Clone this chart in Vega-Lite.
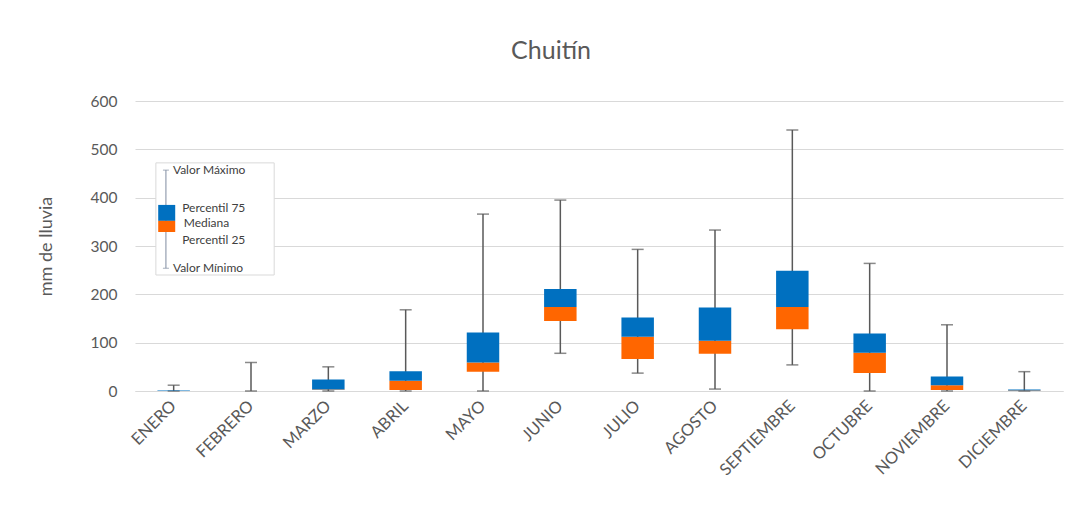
{
  "$schema": "https://vega.github.io/schema/vega-lite/v6.json",
  "autosize": {"type": "none"},
  "padding": {"left": 135, "top": 101, "right": 24, "bottom": 130},
  "width": 928,
  "height": 290,
  "background": "white",
  "title": {"text": "Chuitín", "font": "Lato", "fontSize": 25, "fontWeight": "normal", "color": "#595959", "offset": 30, "dx": -48},
  "config": {
    "view": {"stroke": null},
    "font": "Lato",
    "axis": {"labelFont": "Lato", "titleFont": "Lato", "labelColor": "#595959", "titleColor": "#595959"}
  },
  "datasets": {
    "boxes": [
      {"mes": "ENERO", "min": 0, "q1": 0, "mediana": 0, "q3": 1, "max": 12},
      {"mes": "FEBRERO", "min": 0, "q1": 0, "mediana": 0, "q3": 0, "max": 59},
      {"mes": "MARZO", "min": 0, "q1": 2, "mediana": 3, "q3": 24, "max": 50},
      {"mes": "ABRIL", "min": 0, "q1": 2, "mediana": 21, "q3": 41, "max": 168},
      {"mes": "MAYO", "min": 0, "q1": 40, "mediana": 59, "q3": 121, "max": 366},
      {"mes": "JUNIO", "min": 78, "q1": 145, "mediana": 174, "q3": 211, "max": 395},
      {"mes": "JULIO", "min": 37, "q1": 66, "mediana": 112, "q3": 152, "max": 293},
      {"mes": "AGOSTO", "min": 4, "q1": 77, "mediana": 104, "q3": 173, "max": 333},
      {"mes": "SEPTIEMBRE", "min": 54, "q1": 128, "mediana": 174, "q3": 249, "max": 540},
      {"mes": "OCTUBRE", "min": 0, "q1": 37, "mediana": 79, "q3": 119, "max": 264},
      {"mes": "NOVIEMBRE", "min": 0, "q1": 2, "mediana": 12, "q3": 30, "max": 137},
      {"mes": "DICIEMBRE", "min": 0, "q1": 0, "mediana": 1, "q3": 3, "max": 40}
    ],
    "legendBox": [
      {"x": 0.27, "x2": 1.80, "y": 472, "y2": 240}
    ],
    "legendWhisker": [
      {"x": 0.40, "y": 254, "y2": 457}
    ],
    "legendCaps": [
      {"x": 0.40, "y": 457},
      {"x": 0.40, "y": 254}
    ],
    "legendBars": [
      {"x": 0.30, "x2": 0.52, "y": 352, "y2": 385, "parte": "q3"},
      {"x": 0.30, "x2": 0.52, "y": 329, "y2": 352, "parte": "q1"}
    ],
    "legendText": [
      {"x": 0.49, "y": 457, "label": "Valor Máximo"},
      {"x": 0.61, "y": 379, "label": "Percentil 75"},
      {"x": 0.63, "y": 348, "label": "Mediana"},
      {"x": 0.61, "y": 312, "label": "Percentil 25"},
      {"x": 0.49, "y": 254, "label": "Valor Mínimo"}
    ]
  },
  "layer": [
    {
      "data": {"name": "boxes"},
      "encoding": {
        "x": {
          "field": "mes", "type": "nominal", "sort": null,
          "scale": {"paddingInner": 0, "paddingOuter": 0},
          "axis": {"title": null, "labelAngle": -45, "labelAlign": "right", "labelBaseline": "middle", "labelFontSize": 16.5, "labelPadding": 12, "ticks": false, "domain": true, "domainColor": "#D9D9D9", "domainWidth": 1, "grid": false}
        }
      },
      "layer": [
        {
          "mark": {"type": "rule", "color": "#595959", "strokeWidth": 1.5},
          "encoding": {
            "y": {
              "field": "min", "type": "quantitative",
              "scale": {"domain": [0, 600], "nice": false, "zero": true},
              "axis": {"title": "mm de lluvia", "titleFontSize": 18, "titleFontWeight": "normal", "titlePadding": 35, "labelFontSize": 15.5, "labelPadding": 18, "values": [0, 100, 200, 300, 400, 500, 600], "ticks": false, "domain": false, "grid": true, "gridColor": "#D9D9D9", "gridWidth": 1}
            },
            "y2": {"field": "max"}
          }
        },
        {
          "mark": {"type": "tick", "color": "#595959", "thickness": 1.5, "size": 12, "orient": "horizontal"},
          "encoding": {"y": {"field": "max", "type": "quantitative"}}
        },
        {
          "mark": {"type": "tick", "color": "#595959", "thickness": 1.5, "size": 12, "orient": "horizontal"},
          "encoding": {"y": {"field": "min", "type": "quantitative"}}
        },
        {
          "mark": {"type": "bar", "color": "#FF6600", "width": {"band": 0.42}},
          "encoding": {"y": {"field": "q1", "type": "quantitative"}, "y2": {"field": "mediana"}}
        },
        {
          "mark": {"type": "bar", "color": "#0070C0", "width": {"band": 0.42}},
          "encoding": {"y": {"field": "mediana", "type": "quantitative"}, "y2": {"field": "q3"}}
        }
      ]
    },
    {
      "encoding": {
        "x": {"field": "x", "type": "quantitative", "scale": {"domain": [0, 12], "nice": false, "zero": false}, "axis": null}
      },
      "layer": [
        {
          "data": {"name": "legendBox"},
          "mark": {"type": "rect", "fill": "white", "stroke": "#D9D9D9", "strokeWidth": 1},
          "encoding": {"x2": {"field": "x2"}, "y": {"field": "y", "type": "quantitative"}, "y2": {"field": "y2"}}
        },
        {
          "data": {"name": "legendWhisker"},
          "mark": {"type": "rule", "color": "#7F8CA0", "strokeWidth": 1},
          "encoding": {"y": {"field": "y", "type": "quantitative"}, "y2": {"field": "y2"}}
        },
        {
          "data": {"name": "legendCaps"},
          "mark": {"type": "tick", "color": "#7F8CA0", "thickness": 1, "size": 6, "orient": "horizontal"},
          "encoding": {"y": {"field": "y", "type": "quantitative"}}
        },
        {
          "data": {"name": "legendBars"},
          "mark": {"type": "rect"},
          "encoding": {
            "x2": {"field": "x2"},
            "y": {"field": "y", "type": "quantitative"},
            "y2": {"field": "y2"},
            "color": {"field": "parte", "type": "nominal", "scale": {"domain": ["q3", "q1"], "range": ["#0070C0", "#FF6600"]}, "legend": null}
          }
        },
        {
          "data": {"name": "legendText"},
          "mark": {"type": "text", "align": "left", "baseline": "middle", "fontSize": 12, "color": "#404040", "font": "Lato"},
          "encoding": {"y": {"field": "y", "type": "quantitative"}, "text": {"field": "label"}}
        }
      ]
    }
  ],
  "resolve": {"scale": {"x": "independent"}}
}
